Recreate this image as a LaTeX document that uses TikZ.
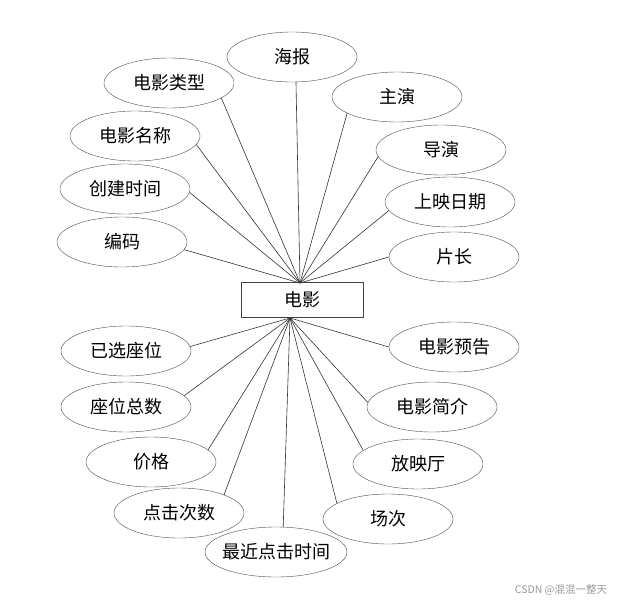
\documentclass[tikz,border=0pt]{standalone}
\usepackage{fontspec}
\setmainfont{Noto Sans CJK SC}
\usetikzlibrary{shapes.geometric}

\begin{document}
\begin{tikzpicture}[
    x=1pt, y=-1pt,
    font=\fontsize{18}{20}\selectfont,
    entity/.style={
        draw=black!75,
        minimum width=122pt,
        minimum height=35pt,
        inner sep=0pt
    },
    attr/.style={
        draw=black!70,
        ellipse,
        minimum width=130pt,
        minimum height=50pt,
        inner sep=0pt
    },
    line/.style={draw=black!80, line width=0.6pt}
]
\useasboundingbox (0,0) rectangle (617,602);

% --- Entity ---
\node[entity] (movie) at (302,300) {电影};
\coordinate (up) at (300,283);
\coordinate (down) at (290,318);

% --- Upper attributes ---
\node[attr] (poster) at (292,57) {海报};
\node[attr] (mtype) at (169,83) {电影类型};
\node[attr] (mname) at (135,136) {电影名称};
\node[attr] (ctime) at (125,189) {创建时间};
\node[attr] (code) at (122,242) {编码};
\node[attr] (star) at (397,97) {主演};
\node[attr] (director) at (441,150) {导演};
\node[attr] (release) at (450,202) {上映日期};
\node[attr] (length) at (454,257) {片长};

% --- Lower attributes ---
\node[attr] (chosen) at (126,351) {已选座位};
\node[attr] (seats) at (126,407) {座位总数};
\node[attr] (price) at (151,462) {价格};
\node[attr] (clicks) at (179,513) {点击次数};
\node[attr, minimum width=142pt] (lastclick) at (276,552) {\makebox[0pt]{最近点击时间}};
\node[attr] (trailer) at (454,347) {电影预告};
\node[attr] (intro) at (432,407) {电影简介};
\node[attr] (hall) at (418,464) {放映厅};
\node[attr] (session) at (388,519) {场次};

% --- Connections ---
\foreach \a/\t in {poster/-81,mtype/-16,mname/-8,ctime/-3,code/-7,
                   star/-162,director/-174,release/-172,length/180}
    \draw[line] (up) -- (\a.\t);
\foreach \a/\t in {chosen/4,seats/11,price/12,clicks/22,lastclick/74,
                   trailer/180,intro/176,hall/166,session/163}
    \draw[line] (down) -- (\a.\t);

\node[font=\fontsize{10.5}{12}\selectfont, text=black!40] (mark) at (561,590) {CSDN @混混一整天};

\end{tikzpicture}
\end{document}
